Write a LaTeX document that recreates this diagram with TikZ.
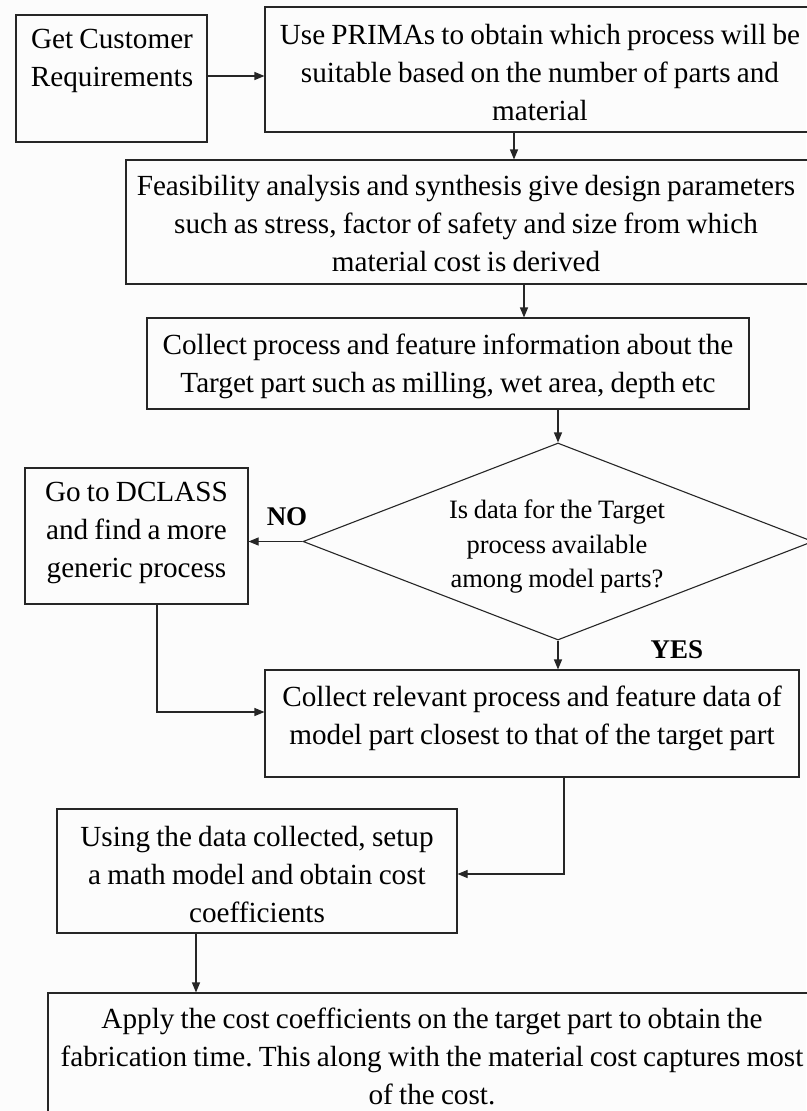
\documentclass[tikz,border=0pt]{standalone}
\usepackage{fontspec}
\setmainfont{Liberation Serif}[WordSpace=0.85]
\usetikzlibrary{shapes.geometric,arrows.meta}
\frenchspacing
\begin{document}
\begin{tikzpicture}[x=1pt,y=-1pt,
  line width=1.1pt,
  boxst/.style={draw=black!85, rectangle, inner sep=0pt},
  txt/.style={align=center, inner sep=0pt, font=\fontsize{29.2}{38}\selectfont},
  dtxt/.style={align=center, inner sep=0pt, font=\fontsize{26.5}{34.5}\selectfont},
  lbl/.style={inner sep=0pt, font=\fontsize{27}{32}\selectfont\bfseries},
  arr/.style={draw=black!85, -{Triangle[length=10pt,width=8pt]}},
  ln/.style={draw=black!85}]
\useasboundingbox (0,0) rectangle (806,1111);
\fill[white!99!black] (0,0) rectangle (806,1111);

% boxes
\node[boxst, minimum width=191pt, minimum height=127pt] (b1) at (111.5,78.5) {};
\node[boxst, minimum width=560pt, minimum height=125pt] (b2) at (545,69.5) {};
\node[boxst, minimum width=704pt, minimum height=124pt] (b3) at (478,222) {};
\node[boxst, minimum width=602pt, minimum height=91pt] (b4) at (448,363.5) {};
\node[draw=black!85, diamond, inner sep=0pt, aspect=2.589, minimum width=510pt, minimum height=197pt] (d) at (558,541.5) {};
\node[boxst, minimum width=223pt, minimum height=136pt] (b5) at (136.5,536) {};
\node[boxst, minimum width=534pt, minimum height=107pt] (b6) at (532,723.5) {};
\node[boxst, minimum width=400pt, minimum height=124pt] (b7) at (257,871) {};
\node[boxst, minimum width=768pt, minimum height=147pt] (b8) at (432,1066.5) {};

% texts
\node[txt] (t1) at (112,61) {Get Customer\\Requirements};
\node[txt] (t2) at (540,72.5) {Use PRIMAs to obtain which process will be\\suitable based on the number of parts and\\material};
\node[txt] (t3) at (466,224) {Feasibility analysis and synthesis give design parameters\\such as stress, factor of safety and size from which\\material cost is derived};
\node[txt] (t4) at (448,366) {Collect process and feature information about the\\Target part such as milling, wet area, depth etc};
\node[dtxt] (td) at (557,547) {Is data for the Target\\process available\\among model parts?};
\node[txt] (t5) at (136.5,533) {Go to DCLASS\\and find a more\\generic process};
\node[txt] (t6) at (532,718) {Collect relevant process and feature data of\\model part closest to that of the target part};
\node[txt] (t7) at (257,874.5) {Using the data collected, setup\\a math model and obtain cost\\coefficients};
\node[txt] (t8) at (432,1056) {Apply the cost coefficients on the target part to obtain the\\fabrication time. This along with the material cost captures most\\of the cost.};

\node[lbl] (no) at (287,517) {NO};
\node[lbl] (yes) at (677,650) {YES};

% connectors
\draw[arr] ([yshift=2.5pt]b1.east) -- ([yshift=2.5pt]b1.east -| b2.west);
\path ([xshift=-31pt]b2.south) coordinate (p2);
\draw[arr] (p2) -- (p2 |- b3.north);
\path ([xshift=46pt]b3.south) coordinate (p3);
\draw[arr] (p3) -- (p3 |- b4.north);
\draw[arr] (b4.south -| d.north) -- (d.north);
\draw[arr] (d.west) -- (d.west -| b5.east);
\draw[arr] (d.south) -- (d.south |- b6.north);
\path ([xshift=20.5pt]b5.south) coordinate (p5);
\path ([yshift=11.5pt]b6.west) coordinate (q6);
\draw[arr] (p5) |- (q6);
\path ([xshift=32pt]b6.south) coordinate (p6);
\path ([yshift=-3pt]b7.east) coordinate (q7);
\draw[arr] (p6) |- (q7);
\path ([xshift=-61pt]b7.south) coordinate (p7);
\draw[arr] (p7) -- (p7 |- b8.north);
\end{tikzpicture}
\end{document}
